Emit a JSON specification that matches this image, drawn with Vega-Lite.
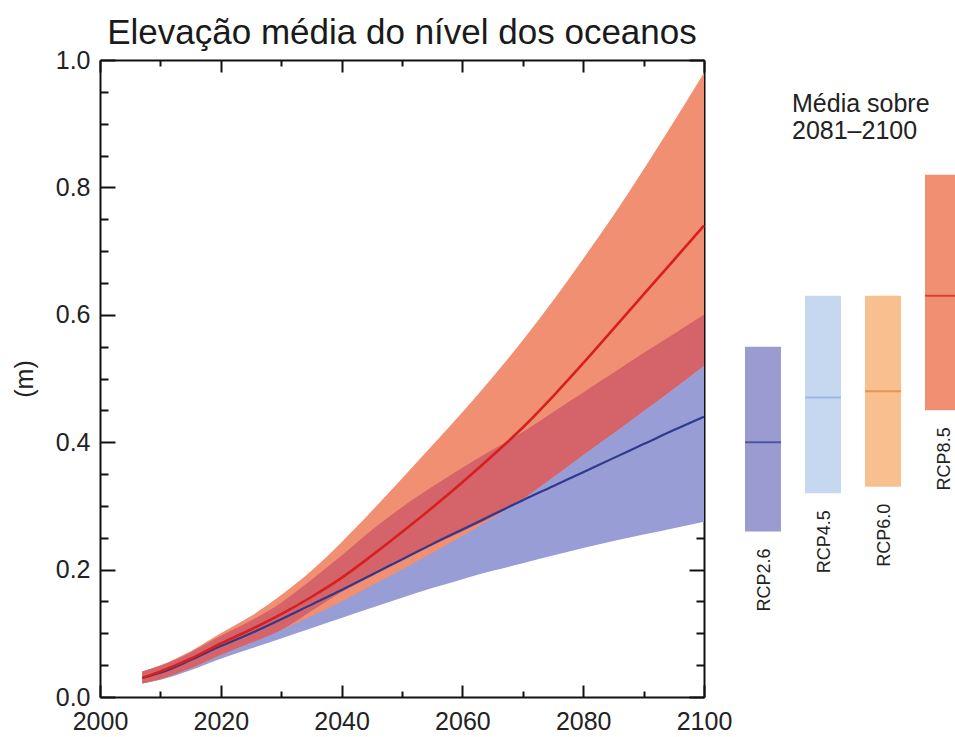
{
  "$schema": "https://vega.github.io/schema/vega-lite/v6.json",
  "autosize": {"type": "pad"},
  "padding": {"left": 12, "top": 16, "right": 0, "bottom": 0},
  "background": "white",
  "config": {
    "view": {"stroke": null},
    "font": "Liberation Sans",
    "axis": {"grid": false, "minExtent": 0, "labelFlush": false, "domainColor": "#111", "domainWidth": 2, "tickColor": "#111", "tickWidth": 2, "labelColor": "#222", "labelFont": "Liberation Sans", "titleFont": "Liberation Sans", "titleColor": "#222"}
  },
  "datasets": {
    "series": [
      {"year": 2007, "m85": 0.030, "m26": 0.030, "u85": 0.040, "l85": 0.021, "u26": 0.040, "l26": 0.021, "rt": 0.040, "rb": 0.021},
      {"year": 2010, "m85": 0.040, "m26": 0.038, "u85": 0.050, "l85": 0.028, "u26": 0.049, "l26": 0.027, "rt": 0.049, "rb": 0.028},
      {"year": 2015, "m85": 0.060, "m26": 0.058, "u85": 0.072, "l85": 0.045, "u26": 0.070, "l26": 0.042, "rt": 0.070, "rb": 0.045},
      {"year": 2020, "m85": 0.084, "m26": 0.080, "u85": 0.100, "l85": 0.066, "u26": 0.096, "l26": 0.060, "rt": 0.096, "rb": 0.066},
      {"year": 2025, "m85": 0.106, "m26": 0.100, "u85": 0.127, "l85": 0.085, "u26": 0.120, "l26": 0.076, "rt": 0.120, "rb": 0.085},
      {"year": 2030, "m85": 0.130, "m26": 0.122, "u85": 0.160, "l85": 0.105, "u26": 0.148, "l26": 0.092, "rt": 0.148, "rb": 0.105},
      {"year": 2035, "m85": 0.157, "m26": 0.145, "u85": 0.198, "l85": 0.127, "u26": 0.184, "l26": 0.108, "rt": 0.184, "rb": 0.135},
      {"year": 2040, "m85": 0.187, "m26": 0.168, "u85": 0.243, "l85": 0.150, "u26": 0.222, "l26": 0.124, "rt": 0.222, "rb": 0.165},
      {"year": 2045, "m85": 0.222, "m26": 0.192, "u85": 0.292, "l85": 0.175, "u26": 0.262, "l26": 0.140, "rt": 0.262, "rb": 0.190},
      {"year": 2050, "m85": 0.259, "m26": 0.216, "u85": 0.343, "l85": 0.200, "u26": 0.298, "l26": 0.156, "rt": 0.298, "rb": 0.215},
      {"year": 2055, "m85": 0.297, "m26": 0.240, "u85": 0.395, "l85": 0.226, "u26": 0.330, "l26": 0.171, "rt": 0.330, "rb": 0.238},
      {"year": 2060, "m85": 0.337, "m26": 0.263, "u85": 0.447, "l85": 0.253, "u26": 0.360, "l26": 0.185, "rt": 0.360, "rb": 0.260},
      {"year": 2065, "m85": 0.379, "m26": 0.286, "u85": 0.502, "l85": 0.281, "u26": 0.388, "l26": 0.198, "rt": 0.388, "rb": 0.283},
      {"year": 2070, "m85": 0.423, "m26": 0.309, "u85": 0.560, "l85": 0.311, "u26": 0.416, "l26": 0.210, "rt": 0.416, "rb": 0.311},
      {"year": 2075, "m85": 0.472, "m26": 0.331, "u85": 0.622, "l85": 0.345, "u26": 0.447, "l26": 0.222, "rt": 0.447, "rb": 0.345},
      {"year": 2080, "m85": 0.524, "m26": 0.353, "u85": 0.688, "l85": 0.380, "u26": 0.478, "l26": 0.234, "rt": 0.478, "rb": 0.380},
      {"year": 2085, "m85": 0.578, "m26": 0.375, "u85": 0.756, "l85": 0.414, "u26": 0.509, "l26": 0.245, "rt": 0.509, "rb": 0.414},
      {"year": 2090, "m85": 0.632, "m26": 0.397, "u85": 0.828, "l85": 0.449, "u26": 0.540, "l26": 0.255, "rt": 0.540, "rb": 0.449},
      {"year": 2095, "m85": 0.686, "m26": 0.419, "u85": 0.903, "l85": 0.484, "u26": 0.570, "l26": 0.265, "rt": 0.570, "rb": 0.484},
      {"year": 2100, "m85": 0.740, "m26": 0.440, "u85": 0.980, "l85": 0.520, "u26": 0.600, "l26": 0.275, "rt": 0.600, "rb": 0.520}
    ],
    "bars": [
      {"scenario": "RCP2.6", "lo": 0.26, "med": 0.40, "hi": 0.55},
      {"scenario": "RCP4.5", "lo": 0.32, "med": 0.47, "hi": 0.63},
      {"scenario": "RCP6.0", "lo": 0.33, "med": 0.48, "hi": 0.63},
      {"scenario": "RCP8.5", "lo": 0.45, "med": 0.63, "hi": 0.82}
    ]
  },
  "spacing": 1,
  "hconcat": [
    {
      "width": 604,
      "height": 637,
      "title": {"text": "Elevação média do nível dos oceanos", "fontSize": 35, "fontWeight": "normal", "font": "Liberation Sans", "color": "#1a1a1a", "anchor": "middle", "frame": "group", "baseline": "alphabetic", "offset": -31},
      "data": {"name": "series"},
      "layer": [
        {
          "mark": {"type": "area", "color": "#999dd5", "opacity": 1, "interpolate": "monotone"},
          "encoding": {
            "x": {"field": "year", "type": "quantitative", "scale": {"domain": [2000, 2100], "nice": false, "zero": false},
                  "axis": {"orient": "bottom", "values": [2000, 2020, 2040, 2060, 2080, 2100], "format": "d", "tickSize": -12, "labelPadding": 24, "labelFontSize": 25, "title": null}},
            "y": {"field": "l26", "type": "quantitative", "scale": {"domain": [0, 1], "nice": false, "zero": true},
                  "axis": {"orient": "left", "values": [0, 0.2, 0.4, 0.6, 0.8, 1.0], "format": ".1f", "tickSize": -15, "labelPadding": 25, "labelFontSize": 25, "title": "(m)", "titleFontSize": 25, "titleFontWeight": "normal", "titlePadding": 18}},
            "y2": {"field": "u26"}
          }
        },
        {
          "mark": {"type": "area", "color": "#f08f71", "opacity": 1, "interpolate": "monotone"},
          "encoding": {
            "x": {"field": "year", "type": "quantitative",
                  "axis": {"orient": "bottom", "values": [2010, 2030, 2050, 2070, 2090], "tickSize": -6, "labels": false, "domain": false, "title": null}},
            "y": {"field": "l85", "type": "quantitative",
                  "axis": {"orient": "left", "values": [0.05, 0.1, 0.15, 0.25, 0.3, 0.35, 0.45, 0.5, 0.55, 0.65, 0.7, 0.75, 0.85, 0.9, 0.95], "tickSize": -8, "labels": false, "domain": false, "title": null}},
            "y2": {"field": "u85"}
          }
        },
        {
          "mark": {"type": "area", "color": "#d46469", "opacity": 1, "interpolate": "monotone"},
          "encoding": {
            "x": {"field": "year", "type": "quantitative",
                  "axis": {"orient": "top", "values": [2000, 2020, 2040, 2060, 2080, 2100], "tickSize": -12, "labels": false, "title": null}},
            "y": {"field": "rb", "type": "quantitative",
                  "axis": {"orient": "right", "values": [0, 0.2, 0.4, 0.6, 0.8, 1.0], "tickSize": -15, "labels": false, "title": null}},
            "y2": {"field": "rt"}
          }
        },
        {
          "mark": {"type": "line", "color": "#2e3a8c", "strokeWidth": 2.2, "interpolate": "monotone"},
          "encoding": {
            "x": {"field": "year", "type": "quantitative",
                  "axis": {"orient": "top", "values": [2010, 2030, 2050, 2070, 2090], "tickSize": -6, "labels": false, "domain": false, "title": null}},
            "y": {"field": "m26", "type": "quantitative",
                  "axis": {"orient": "right", "values": [0.05, 0.1, 0.15, 0.25, 0.3, 0.35, 0.45, 0.5, 0.55, 0.65, 0.7, 0.75, 0.85, 0.9, 0.95], "tickSize": -8, "labels": false, "domain": false, "title": null}}
          }
        },
        {
          "mark": {"type": "line", "color": "#d91e1e", "strokeWidth": 2.6, "interpolate": "monotone"},
          "encoding": {
            "x": {"field": "year", "type": "quantitative", "axis": null},
            "y": {"field": "m85", "type": "quantitative", "axis": null}
          }
        }
      ],
      "resolve": {"axis": {"x": "independent", "y": "independent"}}
    },
    {
      "width": 240,
      "height": 637,
      "title": {"text": ["Média sobre", "2081–2100"], "fontSize": 25, "fontWeight": "normal", "font": "Liberation Sans", "color": "#222", "lineHeight": 27, "anchor": "start", "align": "left", "frame": "group", "dx": 59, "offset": -84},
      "data": {"name": "bars"},
      "layer": [
        {
          "mark": {"type": "bar", "width": 36},
          "encoding": {
            "x": {"field": "scenario", "type": "nominal", "sort": null, "scale": {"paddingInner": 0.4, "paddingOuter": 0.2}, "axis": null},
            "y": {"field": "lo", "type": "quantitative", "scale": {"domain": [0, 1], "nice": false}, "axis": null},
            "y2": {"field": "hi"},
            "color": {"field": "scenario", "type": "nominal", "scale": {"domain": ["RCP2.6", "RCP4.5", "RCP6.0", "RCP8.5"], "range": ["#9b9bd2", "#c6d7f0", "#f9c08f", "#f09070"]}, "legend": null}
          }
        },
        {
          "mark": {"type": "tick", "thickness": 2, "size": 36},
          "encoding": {
            "x": {"field": "scenario", "type": "nominal", "sort": null, "axis": null},
            "y": {"field": "med", "type": "quantitative", "axis": null},
            "color": {"field": "scenario", "type": "nominal", "scale": {"domain": ["RCP2.6", "RCP4.5", "RCP6.0", "RCP8.5"], "range": ["#2c3a8a", "#8cafdc", "#e08232", "#d21e1e"]}, "legend": null}
          }
        },
        {
          "mark": {"type": "text", "angle": 270, "align": "right", "baseline": "middle", "dx": -17, "dy": 2, "fontSize": 18, "color": "#222", "font": "Liberation Sans"},
          "encoding": {
            "x": {"field": "scenario", "type": "nominal", "sort": null, "axis": null},
            "y": {"field": "lo", "type": "quantitative", "axis": null},
            "text": {"field": "scenario"}
          }
        }
      ],
      "resolve": {"scale": {"color": "independent"}}
    }
  ]
}
